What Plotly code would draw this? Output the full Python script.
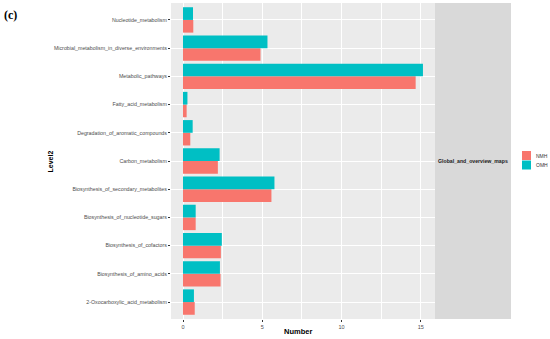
import plotly.graph_objects as go

categories = [
    "2-Oxocarboxylic_acid_metabolism",
    "Biosynthesis_of_amino_acids",
    "Biosynthesis_of_cofactors",
    "Biosynthesis_of_nucleotide_sugars",
    "Biosynthesis_of_secondary_metabolites",
    "Carbon_metabolism",
    "Degradation_of_aromatic_compounds",
    "Fatty_acid_metabolism",
    "Metabolic_pathways",
    "Microbial_metabolism_in_diverse_environments",
    "Nucleotide_metabolism",
]
nmh_values = [0.74, 2.37, 2.39, 0.80, 5.58, 2.20, 0.46, 0.23, 14.68, 4.89, 0.65]
omh_values = [0.69, 2.33, 2.45, 0.80, 5.77, 2.31, 0.61, 0.28, 15.14, 5.33, 0.63]
x_ticks = [0, 5, 10, 15]
facet_label = "Global_and_overview_maps"
series_names = ["NMH", "OMH"]
series_colors = ["#F8766D", "#00BFC4"]

W, H = 550, 339
px = lambda v: v / W
py = lambda v: 1 - v / H

fig = go.Figure()
for name, vals, col in zip(series_names, [nmh_values, omh_values], series_colors):
    fig.add_trace(go.Bar(y=categories, x=vals, name=name, orientation="h",
                         marker=dict(color=col, line=dict(width=0)), showlegend=False))

fig.update_layout(
    width=W, height=H, autosize=False,
    margin=dict(l=0, r=0, t=0, b=0, pad=0),
    paper_bgcolor="white",
    plot_bgcolor="#EBEBEB",
    barmode="group", bargap=0.1, bargroupgap=0,
    font=dict(family="Liberation Sans, Arial", size=5, color="#4D4D4D"),
    xaxis=dict(
        domain=[px(171), px(435)], range=[-0.757, 15.9],
        tickvals=x_ticks, ticks="outside", ticklen=2, tickwidth=0.6, tickcolor="#333333",
        showgrid=True, gridcolor="white", gridwidth=1, zeroline=False,
        minor=dict(dtick=2.5, tick0=0, showgrid=True, gridcolor="white", gridwidth=0.5, ticks=""),
        automargin=False, fixedrange=True,
        tickfont=dict(size=5.5, color="#4D4D4D"),
    ),
    yaxis=dict(
        domain=[py(319), py(3)], type="category", categoryorder="array", categoryarray=categories,
        range=[-0.6, 10.6],
        ticks="outside", ticklen=2, tickwidth=0.6, tickcolor="#333333",
        showgrid=True, gridcolor="white", gridwidth=1, zeroline=False,
        automargin=False, fixedrange=True,
        tickfont=dict(size=5.3, color="#4D4D4D"),
    ),
)

# facet strip on the right
fig.add_shape(type="rect", xref="paper", yref="paper",
              x0=px(435), x1=px(511), y0=py(319), y1=py(3),
              fillcolor="#D9D9D9", line=dict(width=0), layer="below")
fig.add_annotation(text="<b>" + facet_label + "</b>", xref="paper", yref="paper",
                   x=px(473), y=py(161), xanchor="center", yanchor="middle", showarrow=False,
                   font=dict(size=5.2, color="#1A1A1A"))

# legend (keys + labels)
for i, (name, col) in enumerate(zip(series_names, series_colors)):
    top = 151 + i * 9.5
    fig.add_shape(type="rect", xref="paper", yref="paper",
                  x0=px(522), x1=px(531), y0=py(top + 9), y1=py(top),
                  fillcolor=col, line=dict(width=0))
    fig.add_annotation(text=name, xref="paper", yref="paper",
                       x=px(534), y=py(top + 4.5), xanchor="left", yanchor="middle",
                       showarrow=False, font=dict(size=5, color="#333333"))

# axis titles
fig.add_annotation(text="<b>Number</b>", xref="paper", yref="paper",
                   x=px(298), y=py(331), xanchor="center", yanchor="middle", showarrow=False,
                   font=dict(size=7.5, color="black"))
fig.add_annotation(text="<b>Level2</b>", xref="paper", yref="paper",
                   x=px(49.5), y=py(162), xanchor="center", yanchor="middle",
                   showarrow=False, textangle=-90,
                   font=dict(size=7, color="black"))
# panel label
fig.add_annotation(text="<b>(c)</b>", xref="paper", yref="paper",
                   x=px(2), y=py(15), xanchor="left", yanchor="middle", showarrow=False,
                   font=dict(size=12, family="Liberation Serif, Times New Roman", color="black"))

fig.write_html(
    "out.html",
    config={"responsive": False, "displayModeBar": False},
    post_script="document.body.style.margin='0';document.body.style.padding='0';"
                "document.documentElement.style.overflow='hidden';document.body.style.overflow='hidden';",
)
